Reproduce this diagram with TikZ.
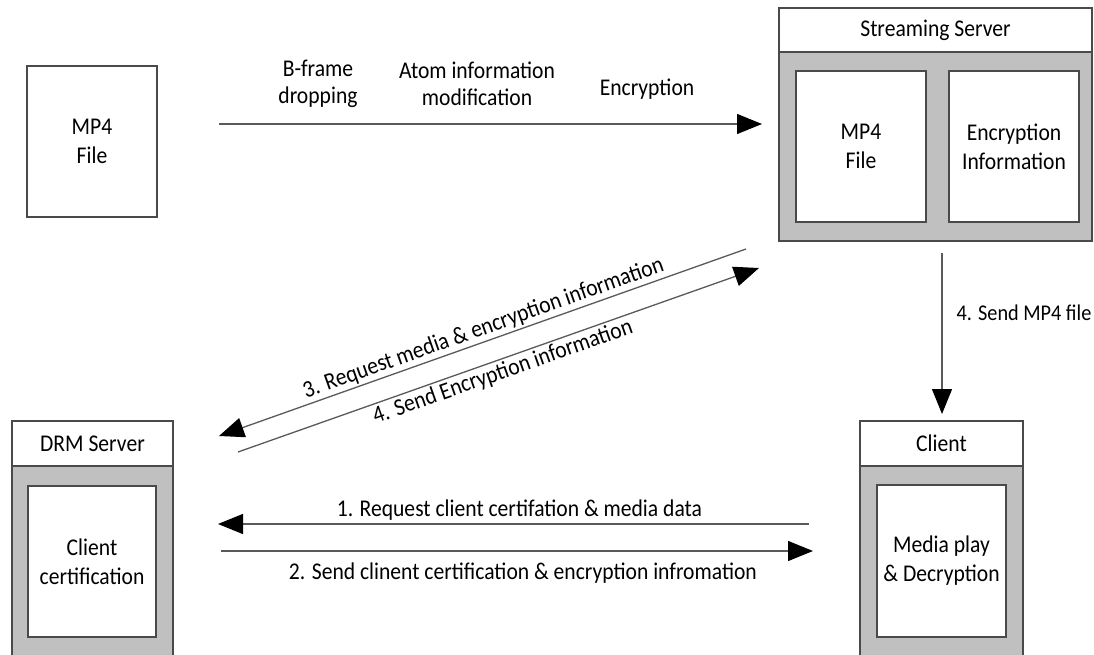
\documentclass[tikz,border=0pt]{standalone}
\usepackage{fontspec}
\setmainfont[FakeStretch=0.9]{Carlito}
\usetikzlibrary{arrows.meta}
\definecolor{edge}{HTML}{4A4A4A}
\definecolor{panel}{HTML}{C0C0C0}
\definecolor{wire}{HTML}{5A5A5A}
\begin{document}
\begin{tikzpicture}[x=1pt,y=-1pt,
  txt/.style={font=\fontsize{24}{29}\selectfont, align=center},
  box/.style={txt, draw=edge, line width=1.4pt, fill=white, inner sep=0pt},
  panelbox/.style={draw=edge, line width=1.4pt, fill=panel, inner sep=0pt},
  flow/.style={draw=wire, line width=1.3pt, -{Triangle[length=25pt,width=20pt,color=black]}},
  lbl/.style={txt, font=\fontsize{24}{27}\selectfont, inner sep=2pt}]
\clip (0,0) rectangle (1094,655);
\fill[white] (0,0) rectangle (1094,655);

% source file
\node[box, minimum width=130pt, minimum height=151pt] (src) at (92,141.5) {MP4\\File};

% streaming server
\node[panelbox, minimum width=313pt, minimum height=233pt] (stream) at (935.5,124.5) {};
\node[box, minimum width=313pt, minimum height=44pt] (streamhead) at (935.5,30) {Streaming Server};
\node[box, minimum width=130pt, minimum height=151pt] (smp4) at (861,146.5) {MP4\\File};
\node[box, minimum width=130pt, minimum height=151pt] (senc) at (1014,146.5) {Encryption\\Information};

% DRM server
\node[panelbox, minimum width=161pt, minimum height=259pt] (drm) at (92.5,550.5) {};
\node[box, minimum width=161pt, minimum height=45pt] (drmhead) at (92.5,443.5) {DRM Server};
\node[box, minimum width=128pt, minimum height=151pt] (cert) at (92,561.5) {Client\\certification};

% client
\node[panelbox, minimum width=163pt, minimum height=259pt] (client) at (941.5,550.5) {};
\node[box, minimum width=163pt, minimum height=45pt] (clienthead) at (941.5,443.5) {Client};
\node[box, minimum width=129pt, minimum height=152pt] (play) at (941.5,561) {Media play\\\& Decryption};

% connector end points
\coordinate (pA) at (219,124);
\coordinate (pB) at (762,124);
\coordinate (r3s) at (746,249);
\coordinate (r3e) at (219,436);
\coordinate (r4s) at (238,452);
\coordinate (r4e) at (759,268);
\coordinate (vS) at (942,253);
\coordinate (vE) at (942,414);
\coordinate (h1s) at (809,524);
\coordinate (h1e) at (218,524);
\coordinate (h2s) at (221,551);
\coordinate (h2e) at (813,551);

% preparation steps
\draw[flow] (pA) -- (pB);
\node[lbl] (stepa) at (318,84) {B-frame\\dropping};
\node[lbl] (stepb) at (477,84) {Atom information\\modification};
\node[lbl] (stepc) at (647,89) {Encryption};

% message exchange
\draw[flow] (r3s) -- node[lbl, sloped, above, pos=0.49] {3. Request media \& encryption information} (r3e);
\draw[flow] (r4s) -- node[lbl, sloped, below, pos=0.5] {4. Send Encryption information} (r4e);
\draw[flow] (vS) -- node[lbl, font=\fontsize{22.5}{27}\selectfont, right=12pt, pos=0.37] {4. Send MP4 file} (vE);
\draw[flow] (h1s) -- node[lbl, above=1pt, pos=0.49] {1. Request client certifation \& media data} (h1e);
\draw[flow] (h2s) -- node[lbl, below=9pt, pos=0.51] {2. Send clinent certification \& encryption infromation} (h2e);
\end{tikzpicture}
\end{document}
